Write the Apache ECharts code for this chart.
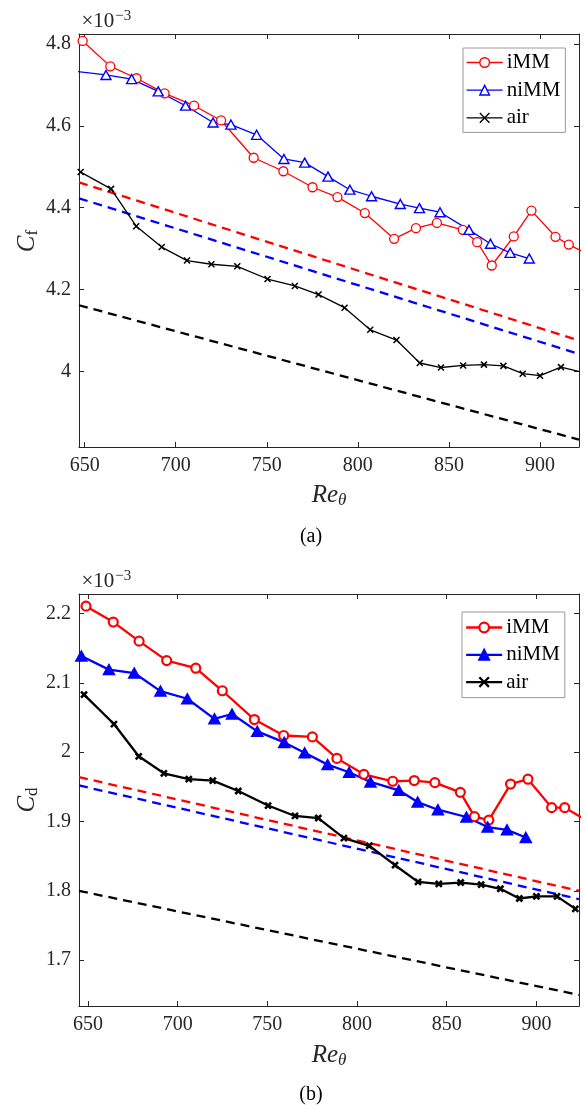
<!DOCTYPE html>
<html>
<head>
<meta charset="utf-8">
<script src="https://cdn.jsdelivr.net/npm/echarts@6/dist/echarts.min.js"></script>
<style>
  html, body { margin: 0; padding: 0; background: #fff; }
  #chart { width: 584px; height: 1109px; }
</style>
</head>
<body>
<div id="chart"></div>
<script>
// Momentum-thickness Reynolds numbers of each measurement set
const reIMM = [648.9, 664.1, 678.5, 693.9, 710.1, 724.9, 742.8, 759.1, 775.1, 788.8, 803.8, 819.9,
               831.9, 843.4, 857.6, 865.5, 873.5, 885.6, 895.3, 908.5, 915.8, 928.0];
const reNiMM = [646.3, 661.7, 675.8, 690.4, 705.4, 720.5, 730.3, 744.4, 759.4, 770.8, 783.6, 795.6,
                807.5, 823.3, 833.8, 845.1, 861.0, 872.8, 883.6, 894.1];
const reAir = [647.8, 664.5, 678.3, 692.3, 706.2, 719.6, 733.8, 750.4, 765.4, 778.4, 792.7, 806.8,
               821.2, 834.0, 845.6, 857.8, 869.2, 879.9, 890.5, 900.0, 911.5, 921.7];

// Skin-friction coefficient C_f (units of 1e-3)
const cfIMM = [4.807, 4.745, 4.716, 4.679, 4.649, 4.613, 4.522, 4.489, 4.450, 4.426, 4.387, 4.324,
               4.350, 4.363, 4.346, 4.316, 4.259, 4.330, 4.393, 4.329, 4.310, 4.283];
const cfNiMM = [4.732, 4.724, 4.714, 4.684, 4.649, 4.608, 4.603, 4.578, 4.519, 4.510, 4.476, 4.444,
                4.428, 4.409, 4.399, 4.389, 4.346, 4.312, 4.290, 4.276];
const cfAir = [4.487, 4.446, 4.355, 4.304, 4.271, 4.262, 4.257, 4.226, 4.209, 4.188, 4.156, 4.102,
               4.077, 4.021, 4.010, 4.015, 4.017, 4.014, 3.995, 3.990, 4.011, 4.000];

// Dissipation coefficient C_d (units of 1e-3)
const cdIMM = [2.2105, 2.1875, 2.160, 2.132, 2.121, 2.0885, 2.047, 2.024, 2.022, 1.991, 1.968, 1.958,
               1.959, 1.956, 1.942, 1.907, 1.902, 1.954, 1.961, 1.920, 1.920, 1.9015];
const cdNiMM = [2.1385, 2.119, 2.114, 2.088, 2.077, 2.048, 2.055, 2.030, 2.014, 1.999, 1.982, 1.971,
                1.957, 1.945, 1.928, 1.917, 1.9065, 1.892, 1.888, 1.877];
const cdAir = [2.083, 2.0405, 1.994, 1.9695, 1.961, 1.959, 1.944, 1.923, 1.908, 1.905, 1.876, 1.865,
               1.837, 1.813, 1.810, 1.812, 1.809, 1.803, 1.789, 1.792, 1.792, 1.774];

// Reference correlations (dashed), end points over each panel's Re range
const cfFitRe = [646.9, 921.4];
const cfFitIMM = [4.462, 4.076];
const cfFitNiMM = [4.423, 4.043];
const cfFitAir = [4.162, 3.834];
const cdFitRe = [645.0, 923.75];
const cdFitIMM = [1.964, 1.800];
const cdFitNiMM = [1.952, 1.788];
const cdFitAir = [1.800, 1.650];

// Axis limits and tick labels
const cfReRange = [646.9, 921.4];
const cfRange = [3.816, 4.824];
const cdReRange = [645.0, 923.75];
const cdRange = [1.634, 2.228];
const reTicks = [650, 700, 750, 800, 850, 900];
const cfTicks = [4, 4.2, 4.4, 4.6, 4.8];
const cdTicks = [1.7, 1.8, 1.9, 2, 2.1, 2.2];
const legendNames = ['iMM', 'niMM', 'air'];

const RED = '#ff0000', BLUE = '#0000ff', BLACK = '#000000', AXIS = '#262626';
const SERIF = '"Liberation Serif", "DejaVu Serif", serif';
const CROSS = 'path://M0,0L10,10M10,0L0,10';

const pairs = (xs, ys) => xs.map((x, i) => [x, ys[i]]);

function axis(kind, position, gridIndex, range, ticks, showLabels) {
  return {
    type: 'value',
    gridIndex: gridIndex,
    position: position,
    min: range[0],
    max: range[1],
    scale: true,
    splitLine: { show: false },
    axisLine: { show: true, onZero: false, lineStyle: { color: AXIS, width: 1 } },
    axisTick: {
      show: true, inside: true, length: 5, customValues: ticks,
      lineStyle: { color: AXIS, width: 1 }
    },
    axisLabel: {
      show: showLabels, customValues: ticks,
      margin: kind === 'x' ? 9 : 8,
      color: AXIS, fontFamily: SERIF, fontSize: 20
    }
  };
}

function lineSeries(name, xi, yi, xs, ys, color, symbol, size, width, filled, markW) {
  return {
    name: name, type: 'line', xAxisIndex: xi, yAxisIndex: yi,
    data: pairs(xs, ys),
    symbol: symbol, symbolSize: size, showAllSymbol: true,
    lineStyle: { color: color, width: width },
    itemStyle: {
      color: filled ? color : '#ffffff',
      borderColor: color,
      borderWidth: markW
    },
    z: 3, clip: true
  };
}

function dashSeries(xi, yi, xs, ys, color) {
  return {
    type: 'line', xAxisIndex: xi, yAxisIndex: yi,
    data: pairs(xs, ys), symbol: 'none', silent: true,
    lineStyle: { color: color, width: 2.3, type: [9, 6] },
    z: 2, clip: true
  };
}

function legend(suffix, left, top, pad, gap, lineW) {
  return {
    data: legendNames.map(n => n + suffix),
    formatter: name => name.split(' ')[0],
    orient: 'vertical', left: left, top: top,
    padding: [pad, 5, pad, 3],
    itemGap: gap, itemWidth: 36, itemHeight: 12,
    backgroundColor: '#ffffff', borderColor: '#999999', borderWidth: 1, borderRadius: 0,
    selectedMode: false,
    lineStyle: { width: lineW },
    itemStyle: { borderWidth: lineW < 2 ? 1.4 : 2.2 },
    textStyle: { fontFamily: SERIF, fontSize: 21, lineHeight: 20, color: '#000', padding: [0, 0, 0, -1] }
  };
}

function texts() {
  const sci = (y) => ({
    type: 'text', x: 81.5, y: y,
    style: {
      text: '{a|×10}{b|−3}', textVerticalAlign: 'middle',
      rich: {
        a: { fontFamily: SERIF, fontSize: 21, lineHeight: 24, fill: AXIS },
        b: { fontFamily: SERIF, fontSize: 15, lineHeight: 15, verticalAlign: 'top', fill: AXIS, padding: [0, 0, 0, 1] }
      }
    }
  });
  const yName = (y, sub) => ({
    type: 'text', x: 27, y: y, rotation: Math.PI / 2,
    style: {
      text: '{c|C}{s|' + sub + '}', textAlign: 'center', textVerticalAlign: 'middle',
      rich: {
        c: { fontFamily: SERIF, fontStyle: 'italic', fontSize: 25, lineHeight: 28, fill: AXIS },
        s: { fontFamily: SERIF, fontSize: 17, lineHeight: 17, verticalAlign: 'bottom', fill: AXIS }
      }
    }
  });
  const xName = (y) => ({
    type: 'text', x: 329, y: y,
    style: {
      text: '{r|Re}{s|θ}', textAlign: 'center', textVerticalAlign: 'middle',
      rich: {
        r: { fontFamily: SERIF, fontStyle: 'italic', fontSize: 25, lineHeight: 28, fill: AXIS },
        s: { fontFamily: SERIF, fontStyle: 'italic', fontSize: 17, lineHeight: 17, verticalAlign: 'bottom', fill: AXIS }
      }
    }
  });
  const panel = (y, t) => ({
    type: 'text', x: 311, y: y,
    style: { text: t, textAlign: 'center', textVerticalAlign: 'middle', font: '20px ' + SERIF, fill: '#000' }
  });
  return [
    sci(21), sci(581),
    yName(241, 'f'), yName(800, 'd'),
    xName(495), xName(1055),
    panel(537, '(a)'), panel(1095, '(b)')
  ];
}

const chart = echarts.init(document.getElementById('chart'), null, { renderer: 'canvas' });

chart.setOption({
  animation: false,
  backgroundColor: '#ffffff',
  grid: [
    { left: 79, top: 34, width: 500, height: 413, containLabel: false, outerBoundsMode: 'none' },
    { left: 79, top: 594, width: 500, height: 412, containLabel: false, outerBoundsMode: 'none' }
  ],
  xAxis: [
    axis('x', 'bottom', 0, cfReRange, reTicks, true),
    axis('x', 'top', 0, cfReRange, reTicks, false),
    axis('x', 'bottom', 1, cdReRange, reTicks, true),
    axis('x', 'top', 1, cdReRange, reTicks, false)
  ],
  yAxis: [
    axis('y', 'left', 0, cfRange, cfTicks, true),
    axis('y', 'right', 0, cfRange, cfTicks, false),
    axis('y', 'left', 1, cdRange, cdTicks, true),
    axis('y', 'right', 1, cdRange, cdTicks, false)
  ],
  legend: [
    legend(' (a)', 463, 48, 4, 6.7, 1.3),
    legend(' (b)', 462, 612, 5, 6.3, 2.3)
  ],
  series: [
    // (a) skin friction
    dashSeries(0, 0, cfFitRe, cfFitIMM, RED),
    dashSeries(0, 0, cfFitRe, cfFitNiMM, BLUE),
    dashSeries(0, 0, cfFitRe, cfFitAir, BLACK),
    lineSeries('iMM (a)', 0, 0, reIMM, cfIMM, RED, 'circle', 9, 1.3, false, 1.3),
    lineSeries('niMM (a)', 0, 0, reNiMM, cfNiMM, BLUE, 'triangle', [10, 9], 1.3, false, 1.4),
    lineSeries('air (a)', 0, 0, reAir, cfAir, BLACK, CROSS, 6, 1.3, true, 1.5),
    // (b) dissipation
    dashSeries(2, 2, cdFitRe, cdFitIMM, RED),
    dashSeries(2, 2, cdFitRe, cdFitNiMM, BLUE),
    dashSeries(2, 2, cdFitRe, cdFitAir, BLACK),
    lineSeries('iMM (b)', 2, 2, reIMM, cdIMM, RED, 'circle', 9, 2.3, false, 2.2),
    lineSeries('niMM (b)', 2, 2, reNiMM, cdNiMM, BLUE, 'triangle', [11, 10], 2.3, true, 1.5),
    lineSeries('air (b)', 2, 2, reAir, cdAir, BLACK, CROSS, 6, 2.3, true, 2.6)
  ],
  graphic: texts()
});
</script>
</body>
</html>
